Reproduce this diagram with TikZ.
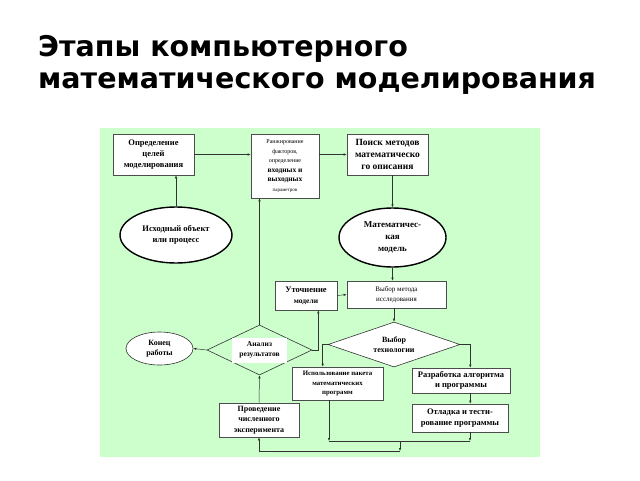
\documentclass[tikz,border=0pt]{standalone}
\usepackage{fontspec}
\setmainfont{Liberation Serif}
\newfontfamily\titlefont{DejaVu Sans}
\usetikzlibrary{shapes.geometric,arrows.meta,calc}
\definecolor{bggreen}{RGB}{204,255,204}
\tikzset{
  box/.style={draw=black!70, line width=0.7pt, fill=white, align=center, inner sep=1pt, font=\bfseries\fontsize{8.5}{10.8}\selectfont},
  oval/.style={ellipse, draw=black, line width=1.4pt, fill=white, align=center, inner sep=0pt, font=\bfseries\fontsize{8.5}{11}\selectfont},
  thinoval/.style={ellipse, draw=black!80, line width=0.6pt, fill=white, align=center, inner sep=0pt, font=\bfseries\fontsize{8}{10}\selectfont},
  rhomb/.style={diamond, draw=black!80, line width=0.6pt, inner sep=0pt, aspect=2.5},
  arr/.style={-{Latex[length=3pt,width=2.5pt]}, line width=0.5pt, draw=black!80},
  ln/.style={line width=0.5pt, draw=black!80},
  ttl/.style={anchor=base west, inner sep=0pt, font=\titlefont\bfseries\fontsize{28.5}{34}\selectfont}
}
\begin{document}
\begin{tikzpicture}[x=1pt,y=-1pt]
\useasboundingbox (0,0) rectangle (640,480);
\fill[white] (0,0) rectangle (640,480);
\fill[bggreen] (100,128) rectangle (540,457);
\node[ttl] (title1) at (38,56) {Этапы компьютерного};
\node[ttl] (title2) at (38,88) {математического моделирования};

\node[box, minimum width=81, minimum height=41] (goal) at (153.5,154.5) {Определение\\целей\\моделирования};
\node[box, minimum width=68, minimum height=64, font=\fontsize{6}{9.5}\selectfont] (rank) at (285,166) {Ранжирование\\факторов,\\определение\\{\bfseries\fontsize{7.5}{9.5}\selectfont входных и}\\{\bfseries\fontsize{7.5}{9.5}\selectfont выходных}\\{\fontsize{5}{9.5}\selectfont параметров}};
\node[box, minimum width=81, minimum height=41, font=\bfseries\fontsize{9.5}{11.7}\selectfont] (search) at (387.5,154.5) {Поиск методов\\математическо\\го описания};
\node[oval, minimum width=112, minimum height=56] (src) at (176,235) {Исходный объект\\или процесс};
\node[oval, minimum width=107, minimum height=59, font=\bfseries\fontsize{9}{12}\selectfont] (model) at (392.5,237.5) {Математичес-\\кая\\модель};
\node[box, minimum width=62, minimum height=29] (refine) at (306,295.5) {Уточнение\\{\fontsize{7.5}{10}\selectfont модели}};
\node[box, minimum width=99, minimum height=27, font=\fontsize{7}{9.5}\selectfont] (method) at (396.5,294.5) {Выбор {\mdseries метода}\\исследования};
\node[rhomb, fill=white, minimum width=132, minimum height=45] (tech) at (394,344.5) {};
\node[align=center, font=\bfseries\fontsize{8}{10.5}\selectfont] (techtxt) at (tech.center) {Выбор\\технологии};
\node[rhomb, minimum width=105, minimum height=50] (anal) at (259.5,350) {};
\node[fill=white, align=center, inner sep=1pt, minimum width=55, minimum height=25, font=\bfseries\fontsize{7.5}{10}\selectfont] (analtxt) at (anal.center) {Анализ\\результатов};
\node[thinoval, minimum width=67, minimum height=33] (end) at (159.5,348.5) {Конец\\работы};
\node[box, minimum width=91, minimum height=33, font=\bfseries\fontsize{6.8}{9.5}\selectfont] (use) at (337.5,383.5) {Использование пакета\\математических\\программ};
\node[box, minimum width=98, minimum height=25, font=\bfseries\fontsize{8.5}{10.5}\selectfont] (dev) at (461,380.5) {Разработка алгоритма\\и программы};
\node[box, minimum width=96, minimum height=28] (debug) at (460,418) {Отладка и тести-\\рование программы};
\node[box, minimum width=80, minimum height=34, font=\bfseries\fontsize{8}{10.5}\selectfont] (exper) at (259,420) {Проведение\\численного\\эксперимента};

\coordinate (j1) at (329,441);
\coordinate (j2) at (470,441);
\coordinate (j3) at (400,441);
\coordinate (j4) at (400,451);

\draw[arr] (goal.east) -- (goal.east -| rank.west);
\draw[arr] (rank.east |- search.west) -- (search.west);
\draw[arr] (model.north |- search.south) -- (model.north);
\draw[arr] (src.north) -- (src.north |- goal.south);
\draw[arr] (model.south) -- (model.south |- method.north);
\draw[arr] (refine.east) -- (method.west);
\draw[arr] (tech.north |- method.south) -- (tech.north);
\draw[arr] (tech.west) -- ++(-5,0) coordinate (c1) -- (c1 |- use.north);
\draw[arr] (tech.east) -- ++(10,0) coordinate (c2) -- (c2 |- dev.north);
\draw[arr] (c2 |- dev.south) -- (c2 |- debug.north);
\draw[arr] (anal.east) -- ++(6,0) coordinate (c3) -- (c3 |- refine.south);
\draw[arr] (anal.north) -- (anal.north |- rank.south);
\draw[arr] (anal.west) -- (end.east);
\draw[arr] (exper.north) -- (anal.south);
\draw[arr] (j1 |- use.south) -- (j1);
\draw[arr] (j2 |- debug.south) -- (j2);
\draw[ln] (j1) -- (j2);
\draw[arr] (j3) -- (j4);
\draw[arr] (j4) -| (exper.south);
\end{tikzpicture}
\end{document}
